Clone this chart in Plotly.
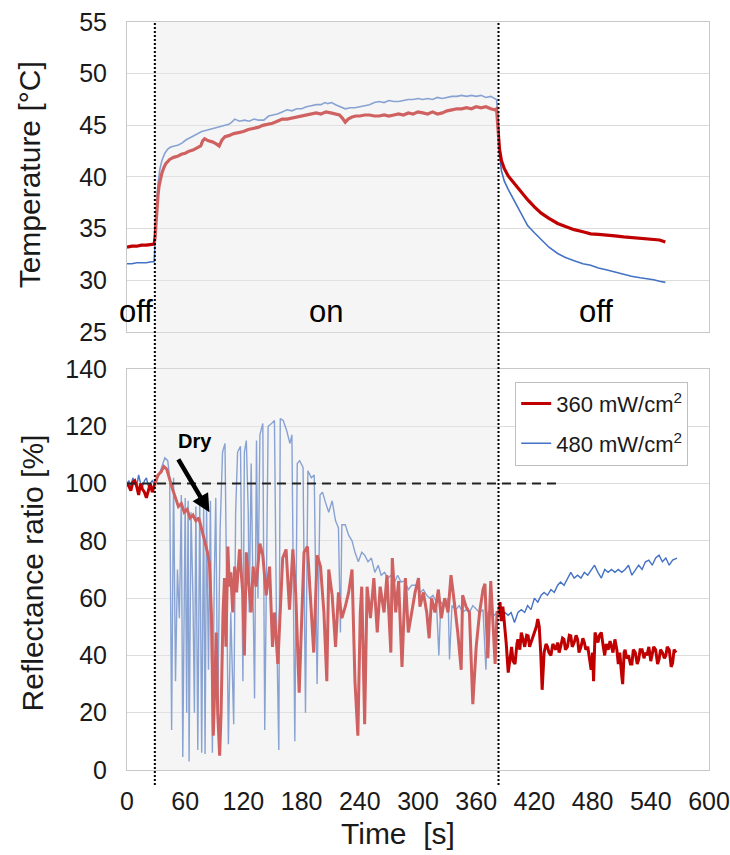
import plotly.graph_objects as go

# ---------------- data ----------------
temp360_t = [0, 5, 10, 15, 20, 25, 28, 29, 30, 31,
             32, 33, 34, 36, 38, 40, 44, 48, 52, 56,
             60, 64, 68, 72, 76, 78, 80, 84, 88, 92,
             95, 98, 101, 105, 110, 115, 120, 125, 130, 135,
             140, 145, 150, 155, 160, 165, 170, 175, 180, 185,
             190, 195, 200, 205, 210, 215, 219, 222, 225, 228,
             232, 236, 240, 245, 250, 255, 260, 265, 270, 275,
             280, 285, 290, 295, 300, 305, 310, 315, 320, 325,
             330, 335, 340, 345, 350, 355, 360, 365, 370, 375,
             379, 381, 382, 383, 384, 386, 389, 393, 398, 403,
             408, 413, 420, 427, 435, 444, 452, 461, 470, 478,
             486, 495, 503, 512, 520, 529, 537, 543, 549, 555]
temp360_v = [33.2, 33.3, 33.3, 33.4, 33.4, 33.5, 33.5, 34.2, 35.8, 37.2,
             38.3, 39.1, 39.7, 40.4, 40.9, 41.3, 41.7, 41.9, 42.0, 42.2,
             42.3, 42.5, 42.6, 42.8, 43.0, 43.5, 43.7, 43.5, 43.4, 43.2,
             43.0, 43.6, 43.9, 44.0, 44.2, 44.3, 44.4, 44.6, 44.7, 44.8,
             45.0, 45.1, 45.2, 45.4, 45.6, 45.6, 45.7, 45.8, 45.9, 46.0,
             46.1, 46.2, 46.1, 46.3, 46.2, 46.1, 46.0, 45.7, 45.3, 45.6,
             45.8, 45.9, 45.9, 46.0, 46.0, 45.9, 45.9, 46.0, 45.9, 46.0,
             46.1, 46.0, 46.2, 46.1, 46.3, 46.2, 46.1, 46.3, 46.1, 46.2,
             46.4, 46.5, 46.6, 46.6, 46.7, 46.6, 46.8, 46.7, 46.8, 46.6,
             46.5, 46.6, 45.0, 43.5, 42.7, 41.6, 40.8, 40.1, 39.5, 38.9,
             38.3, 37.8, 37.1, 36.5, 36.0, 35.5, 35.2, 34.9, 34.7, 34.5,
             34.45, 34.4, 34.3, 34.2, 34.15, 34.05, 34.05, 34.0, 33.9, 33.7]

temp480_t = [0, 5, 10, 15, 20, 25, 28, 29, 30, 31,
             32, 33, 34, 36, 39, 42, 45, 49, 53, 57,
             61, 65, 69, 73, 77, 81, 85, 90, 95, 100,
             105, 108, 111, 116, 121, 126, 131, 136, 141, 146,
             151, 155, 160, 165, 170, 175, 180, 185, 190, 195,
             200, 204, 207, 211, 215, 220, 225, 230, 235, 240,
             245, 250, 255, 260, 265, 270, 275, 280, 285, 290,
             295, 300, 305, 310, 315, 320, 325, 330, 335, 340,
             345, 350, 355, 360, 365, 370, 375, 379, 381, 382,
             383, 384, 386, 389, 393, 398, 403, 408, 413, 420,
             427, 435, 444, 452, 461, 470, 478, 486, 495, 503,
             512, 520, 529, 537, 543, 549, 555]
temp480_v = [31.6, 31.6, 31.7, 31.7, 31.7, 31.8, 31.8, 33.5, 36.3, 38.2,
             39.4, 40.2, 40.8, 41.6, 42.3, 42.7, 42.9, 43.0, 43.1, 43.3,
             43.6, 43.8, 44.0, 44.2, 44.4, 44.5, 44.6, 44.7, 44.9, 45.0,
             45.1, 45.3, 45.6, 45.4, 45.5, 45.4, 45.6, 45.5, 45.5, 45.9,
             46.0, 46.1, 46.3, 46.5, 46.4, 46.6, 46.6, 46.8, 46.9, 47.0,
             47.0, 47.2, 47.1, 47.2, 47.0, 46.8, 46.6, 46.7, 46.7, 46.8,
             46.9, 47.0, 47.2, 47.3, 47.2, 47.4, 47.3, 47.3, 47.4, 47.5,
             47.5, 47.6, 47.5, 47.6, 47.5, 47.7, 47.6, 47.7, 47.8, 47.8,
             47.9, 47.8, 47.9, 47.8, 47.9, 47.7, 47.8, 47.6, 47.5, 46.0,
             43.5, 42.3, 40.6, 39.6, 38.8, 37.9, 37.1, 36.1, 35.3, 34.6,
             33.9, 33.2, 32.6, 32.2, 31.9, 31.6, 31.45, 31.2, 31.0, 30.8,
             30.6, 30.4, 30.25, 30.15, 30.05, 29.9, 29.8]

refl360_t = [0, 2, 4, 6, 8, 10, 12, 14, 16, 18,
             20, 22, 24, 26, 28, 30, 32, 35, 38, 41,
             44, 47, 50, 53, 56, 59, 62, 65, 68, 71,
             74, 77, 80, 83, 85, 87, 89, 90.5, 92, 93.5,
             95.5, 97, 99, 100.5, 102, 104, 105.5, 107, 109, 111,
             113, 116, 119.5, 121, 123, 125, 128, 130, 133, 137,
             140, 143.5, 147, 150, 152, 155.5, 159, 160.5, 164, 167.5,
             171, 174, 177.5, 180, 182.5, 186, 189, 192.5, 196, 199.5,
             203, 206, 208, 211.5, 215, 218, 221.5, 225, 228.5, 232,
             235, 238, 240.5, 242, 245, 247.5, 251, 254.5, 258, 261,
             265, 268, 272, 273.5, 277, 280, 283.5, 287, 290, 293.5,
             297, 300.5, 302, 305.5, 309, 311.5, 314, 317.5, 321, 324,
             327.5, 331, 334, 338, 341, 344.5, 346, 349.5, 353, 356.5,
             360, 363.5, 367, 369, 372, 375, 377, 379.5, 381.5, 383,
             384.5, 386, 387.5, 389.5, 391, 393, 395, 396.5, 398, 400,
             402, 403, 405, 406.5, 408, 410, 412, 413.5, 415, 416.5,
             418, 420, 422, 423.5, 425, 426.5, 428, 430, 432, 433.5,
             435, 437, 439, 440.5, 442, 444, 445.5, 447, 449, 450.5,
             452, 454, 456, 457.5, 459, 461, 463, 464.5, 466, 468,
             470, 471.5, 473, 475, 477, 478.5, 480, 481, 482.5, 484,
             485.5, 487, 489, 491, 492.5, 494, 496, 498, 499.5, 501,
             503, 505, 506.5, 508, 510, 511, 512.5, 513.5, 515, 517,
             519, 520.5, 522, 524, 526, 527.5, 529, 531, 533, 534.5,
             536, 538, 540, 541.5, 543, 545, 547, 548.5, 550, 552,
             554, 555.5, 557, 559, 561, 562.5, 564, 566]
refl360_v = [100, 99, 97.5, 100.5, 101, 99, 96, 100, 98, 97,
             95, 98, 100, 97, 99, 101, 103, 104, 106, 105,
             101, 98, 95, 92, 93, 90, 91, 88, 89, 87,
             88, 84, 80, 76, 72, 55, 12, 30, 48, 20,
             5, 20, 55, 67, 43, 78, 64, 69, 55, 71,
             62, 77, 61, 40, 76, 67, 55, 71, 64, 79,
             75, 61, 71, 43, 55, 37, 60, 74, 77, 56,
             77, 61, 27, 55, 76, 78, 62, 41, 75, 71,
             55, 31, 70, 61, 43, 62, 53, 57, 62, 70,
             31, 12, 55, 64, 16, 64, 53, 67, 48, 64,
             55, 68, 41, 74, 55, 66, 36, 67, 48, 55,
             62, 67, 57, 62, 55, 46, 60, 55, 63, 53,
             60, 55, 68, 57, 48, 35, 61, 57, 55, 23,
             43, 55, 63, 65, 39, 66, 53, 37, 55, 55,
             58.6, 52, 57, 50, 44, 34, 40, 43, 38, 37,
             44, 45.6, 42, 48, 46, 43, 47, 46.8, 43, 44.5,
             46, 48, 50, 52.7, 50, 41, 28, 41, 44, 43,
             41, 40, 44, 43, 42, 44.5, 41, 43, 46, 45.6,
             42, 43, 47, 46.8, 43, 44.5, 47, 45.6, 41, 43,
             46, 44.5, 42, 43, 38, 35, 41, 31, 48, 46,
             44.5, 47, 48, 43, 40, 44, 42, 45, 43, 41,
             45.6, 42, 37, 41, 33, 30, 41, 42, 39, 40,
             37, 37, 42, 41, 37, 38.6, 42, 42, 39, 41,
             40, 43, 38, 40, 43, 42, 37, 38.6, 42, 41,
             39, 40, 43, 42, 36, 37.4, 42, 41]

refl480_t = [0, 2, 4, 6, 8, 10, 12, 14, 16, 18,
             20, 22, 24, 26, 28, 29, 31, 33, 36, 39,
             42, 44, 46, 48, 50, 52, 54, 56, 57.5, 60,
             61.5, 63, 64, 66, 68, 69.5, 71, 73, 75, 77,
             79, 80.5, 82, 84, 86, 88, 90, 91.5, 93.5, 96,
             98.5, 101, 102.5, 104.5, 107, 110, 112, 114, 117, 119.5,
             121, 123, 125, 126, 128, 131.5, 133.5, 135, 137, 140,
             142, 144, 145.5, 149, 152, 154, 156.5, 158, 161, 164.5,
             168, 170, 173, 175.5, 178, 181.5, 184, 186.5, 190, 193,
             196, 199, 201.5, 205, 208, 211.5, 215, 218, 220, 221.5,
             225, 228.5, 232, 235, 238.5, 242, 245, 248.5, 252, 255.5,
             259, 262, 265.5, 269, 272.5, 276, 279, 282.5, 286, 290,
             293.5, 299, 302, 305.5, 309, 312, 315.5, 319, 321.5, 323.5,
             327.5, 331, 332.5, 335, 339, 342.5, 346, 349.5, 353, 356.5,
             360, 363.5, 367, 370, 372, 375, 378.5, 381.5, 383, 386,
             389.5, 393, 396, 399.5, 403, 406.5, 410, 413, 416.5, 420,
             423.5, 427, 430, 433.5, 437, 440.5, 444, 447, 450.5, 454,
             457.5, 461, 464.5, 468, 471.5, 475, 478.5, 482, 485.5, 489,
             492.5, 496, 499.5, 503, 506.5, 510, 513.5, 517, 520.5, 524,
             527.5, 531, 534.5, 538, 541.5, 545, 548.5, 552, 555.5, 559,
             562.5, 567]
refl480_v = [100, 101, 99, 102, 100, 99, 103, 100, 99, 101,
             102, 99, 100, 101, 100, 100, 102, 103, 106, 109,
             108, 102, 14, 102, 31, 70, 53, 96, 4.5, 95,
             20, 94, 3, 90, 60, 20, 92, 7, 95, 6,
             93, 5.6, 92, 35, 94, 6, 67, 95, 20, 84,
             111, 114, 70, 9, 55, 16, 90, 111, 113, 31,
             111, 115, 90, 55, 107, 25, 115, 60, 117, 121,
             14, 80, 120, 121, 122, 55, 7, 122.7, 122, 118.6,
             114, 117, 10, 107, 108, 105.6, 20, 104.5, 102, 103,
             30, 96, 97, 93, 90, 94, 87, 84.5, 48, 85.6,
             85.6, 82, 80, 76, 72.7, 76, 75, 72.7, 74, 69,
             71.5, 68, 69, 67, 68, 65.6, 68, 65.6, 66, 63,
             64.5, 64.5, 62, 63, 61, 60, 61, 58.6, 40, 58.6,
             57.4, 60, 38.6, 57.4, 56, 57.4, 55, 56, 55, 57.4,
             56, 55, 56, 35, 55, 56, 54, 55, 55, 52.7,
             55, 54, 55, 51.5, 55, 56, 55, 57.4, 56, 60,
             58.6, 61, 62, 61, 63, 62, 64.5, 65.6, 64.5, 67,
             69, 67, 68, 67, 69, 68, 70, 71.5, 69, 67,
             70, 69, 70, 69, 70, 69, 70, 71.5, 68, 70,
             71.5, 70, 72.7, 73.3, 71.5, 74, 75, 72.7, 74, 71.5,
             73.3, 74]

series_names = ["360 mW/cm<sup>2</sup>", "480 mW/cm<sup>2</sup>"]
temp_ticks = [25, 30, 35, 40, 45, 50, 55]
refl_ticks = [0, 20, 40, 60, 80, 100, 120, 140]
time_ticks = [0, 60, 120, 180, 240, 300, 360, 420, 480, 540, 600]
light_on, light_off = 28.7, 383.0
region_labels = [("off", 9, 27), ("on", 205, 27), ("off", 484, 27)]

RED = "#c00000"
BLUE = "#4472c4"
FONT = "Liberation Sans, Arial, sans-serif"

fig = go.Figure()
fig.add_trace(go.Scatter(x=temp480_t, y=temp480_v, mode="lines", line=dict(color=BLUE, width=1.6),
                         xaxis="x", yaxis="y", showlegend=False, hoverinfo="skip"))
fig.add_trace(go.Scatter(x=temp360_t, y=temp360_v, mode="lines", line=dict(color=RED, width=3.2),
                         xaxis="x", yaxis="y", showlegend=False, hoverinfo="skip"))
fig.add_trace(go.Scatter(x=refl480_t, y=refl480_v, mode="lines", name=series_names[1],
                         line=dict(color=BLUE, width=1.4), xaxis="x2", yaxis="y2",
                         legendrank=2, legendgroup="b"))
fig.add_trace(go.Scatter(x=refl360_t, y=refl360_v, mode="lines", name=series_names[0],
                         line=dict(color=RED, width=3), xaxis="x2", yaxis="y2",
                         legendrank=1, legendgroup="a"))

axis_common = dict(showline=True, linecolor="#c8c8c8", linewidth=1, mirror=True,
                   zeroline=False, ticklabeloverflow="allow", automargin=False,
                   tickfont=dict(family=FONT, size=25, color="#1a1a1a"))

fig.update_layout(
    width=730, height=855, autosize=False,
    margin=dict(l=127, r=21, t=22, b=85, autoexpand=False),
    paper_bgcolor="white", plot_bgcolor="white",
    font=dict(family=FONT, color="black"),
    xaxis=dict(domain=[0, 1], anchor="y", range=[0, 600], matches="x2",
               showticklabels=False, showgrid=False, tickvals=time_ticks, **axis_common),
    yaxis=dict(domain=[0.5856, 1], anchor="x", range=[25, 55], tickvals=temp_ticks,
               showgrid=True, gridcolor="#dcdcdc", ticklabelstandoff=14, **axis_common),
    xaxis2=dict(domain=[0, 1], anchor="y2", range=[0, 600], tickvals=time_ticks,
                showgrid=False, ticklabelstandoff=9, **axis_common),
    yaxis2=dict(domain=[0, 0.5361], anchor="x2", range=[0, 140], tickvals=refl_ticks,
                showgrid=True, gridcolor="#dcdcdc", ticklabelstandoff=14, **axis_common),
    legend=dict(x=0.667, y=0.519, xanchor="left", yanchor="top",
                bgcolor="white", bordercolor="#bfbfbf", borderwidth=1,
                font=dict(family=FONT, size=22, color="#1a1a1a"),
                traceorder="grouped", tracegroupgap=8, itemwidth=30),
    showlegend=True,
)

shapes = [
    # translucent panel marking the "on" period (drawn over the traces)
    dict(type="rect", xref="x2", yref="paper", x0=light_on, x1=light_off, y0=0, y1=1,
         fillcolor="rgba(232,232,232,0.42)", line=dict(width=0), layer="above"),
    # 100 % reference line
    dict(type="line", xref="x2", yref="y2", x0=0, x1=444, y0=100, y1=100,
         line=dict(color="#222222", width=2, dash="9px,6px"), layer="above"),
]
for xv in (light_on, light_off):
    shapes.append(dict(type="line", xref="x2", yref="paper", x0=xv, x1=xv, y0=-0.02, y1=1,
                       line=dict(color="black", width=2, dash="2px,2px"), layer="above"))
fig.update_layout(shapes=shapes)

annotations = []
for txt, xv, yv in region_labels:
    annotations.append(dict(text=txt, x=xv, y=yv, xref="x", yref="y", showarrow=False,
                            font=dict(family=FONT, size=31, color="black"),
                            xanchor="center", yanchor="middle"))
annotations += [
    dict(text="Dry", x=70, y=115, xref="x2", yref="y2", showarrow=False,
         font=dict(family=FONT, size=20, color="black", weight="bold"),
         xanchor="center", yanchor="middle"),
    dict(text="", x=85, y=90, xref="x2", yref="y2", ax=52, ay=109, axref="x2", ayref="y2",
         showarrow=True, arrowhead=2, arrowsize=0.8, arrowwidth=4.5, arrowcolor="black"),
    dict(text="Temperature [°C]", x=-0.166, y=0.7955, xref="paper", yref="paper",
         showarrow=False, textangle=-90, font=dict(family=FONT, size=30, color="#1a1a1a"),
         xanchor="center", yanchor="middle"),
    dict(text="Reflectance ratio [%]", x=-0.163, y=0.263, xref="paper", yref="paper",
         showarrow=False, textangle=-90, font=dict(family=FONT, size=30, color="#1a1a1a"),
         xanchor="center", yanchor="middle"),
    dict(text="Time\u00a0 [s]", x=0.4656, y=-0.085, xref="paper", yref="paper",
         showarrow=False, font=dict(family=FONT, size=30, color="#1a1a1a"),
         xanchor="center", yanchor="middle"),
]
fig.update_layout(annotations=annotations)

# remove the browser's default 8 px page margin so the figure fills the window exactly
fig.write_html("out.html", config={"displayModeBar": False},
               post_script="document.body.style.margin='0';document.body.style.overflow='hidden';")
